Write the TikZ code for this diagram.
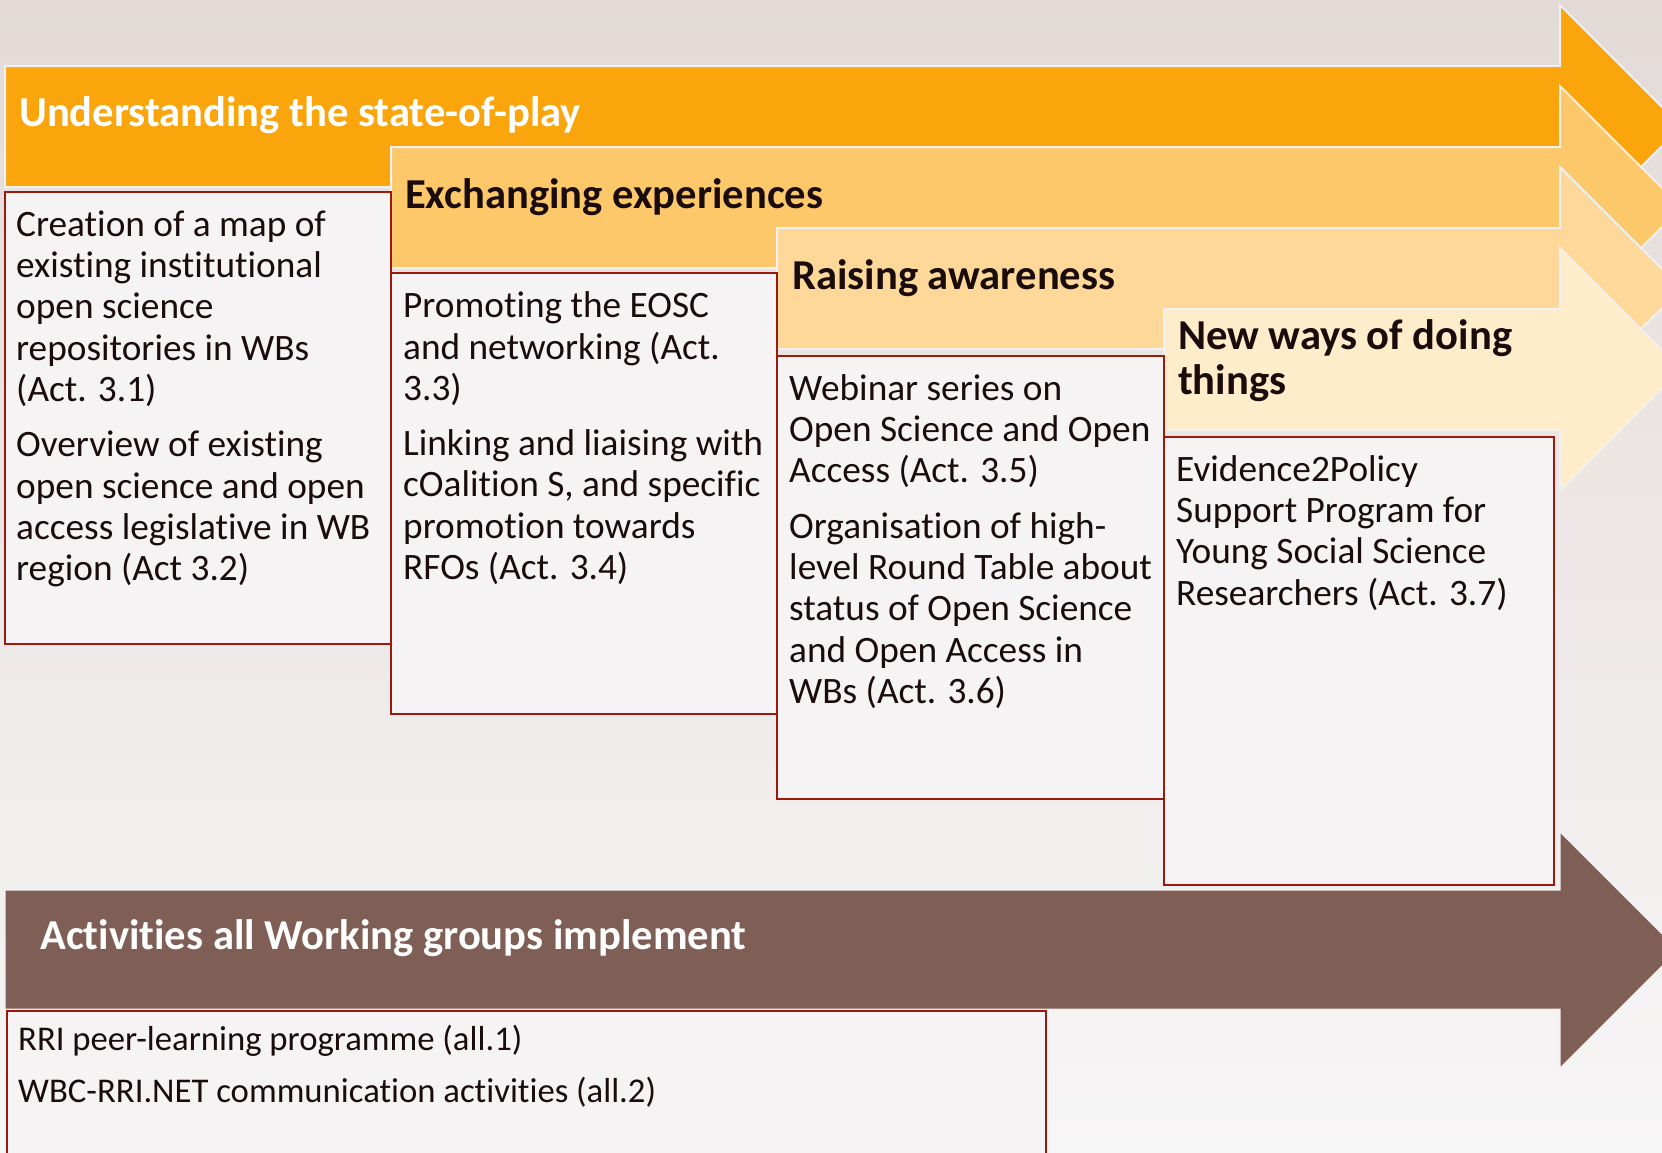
\documentclass[tikz,border=0pt]{standalone}
\usepackage{fontspec}
\setmainfont{Carlito}[Ligatures=NoCommon]
\usepackage{xcolor}
\usetikzlibrary{positioning}
\definecolor{bgtop}{RGB}{227,218,216}
\definecolor{bgmid}{RGB}{243,240,240}
\definecolor{bgbottom}{RGB}{247,246,246}
\definecolor{stageone}{RGB}{249,165,11}
\definecolor{stagetwo}{RGB}{252,200,106}
\definecolor{stagethree}{RGB}{253,216,153}
\definecolor{stagefour}{RGB}{254,236,203}
\definecolor{allcolor}{RGB}{127,95,85}
\definecolor{boxred}{RGB}{156,26,12}
\definecolor{boxfill}{RGB}{245,243,244}
\definecolor{inkcolor}{RGB}{26,12,12}

\begin{document}
\begin{tikzpicture}[
    x=1pt, y=-1pt,
    stage/.style={draw=white!94!black, line width=2pt},
    actbox/.style={rectangle, draw=boxred, fill=boxfill, line width=2.8pt, outer sep=0pt, anchor=north west},
    headtxt/.style={inner sep=0pt, align=left, font=\bfseries\fontsize{42.6}{45}\selectfont, text=inkcolor},
    acttxt/.style={inner sep=0pt, align=left, font=\fontsize{37.3}{41.3}\selectfont, text=inkcolor},
    alltxt/.style={inner sep=0pt, align=left, font=\fontsize{34.7}{36.6}\selectfont, text=inkcolor}
]
\useasboundingbox (0,0) rectangle (1662,1152);
\clip (0,0) rectangle (1662,1152);

% Background
\shade[top color=bgtop, middle color=bgmid, bottom color=bgbottom] (0,0) rectangle (1662,1152);

% Stage arrows
\filldraw[stage, fill=stageone] (5,66) -- (1560,66) -- (1560,5) -- (1681.5,126.5) -- (1560,248) -- (1560,187) -- (5,187) -- cycle;
\filldraw[stage, fill=stagetwo] (391,147) -- (1560,147) -- (1560,86) -- (1681.5,207.5) -- (1560,329) -- (1560,268) -- (391,268) -- cycle;
\filldraw[stage, fill=stagethree] (777,228) -- (1560,228) -- (1560,167) -- (1681.5,288.5) -- (1560,410) -- (1560,349) -- (777,349) -- cycle;
\filldraw[stage, fill=stagefour] (1164,309) -- (1560,309) -- (1560,248) -- (1681.5,369.5) -- (1560,491) -- (1560,430) -- (1164,430) -- cycle;
\coordinate (shaft1) at (5,66);
\coordinate (shaft2) at (391,147);
\coordinate (shaft3) at (777,228);
\coordinate (shaft4) at (1164,309);

% Stage titles
\node[headtxt, text=white, below right=28.8pt and 14pt of shaft1] (head1) {\strut Understanding the state-of-play};
\node[headtxt, below right=29.3pt and 14pt of shaft2] (head2) {\strut Exchanging experiences};
\node[headtxt, below right=29.3pt and 15pt of shaft3] (head3) {\strut Raising awareness};
\node[headtxt, below right=9pt and 14pt of shaft4] (head4) {\strut New ways of doing\\things};

% Activity boxes
\node[actbox, minimum width=386, minimum height=452] (boxA) at (5,192) {};
\node[actbox, minimum width=386, minimum height=441] (boxB) at (391,273) {};
\node[actbox, minimum width=387, minimum height=443] (boxC) at (777,356) {};
\node[actbox, minimum width=390, minimum height=448] (boxD) at (1164,437) {};

\node[acttxt, below right=15.1pt and 11pt of boxA.north west] (txtA) {\strut Creation of a map of\\existing institutional\\open science\\repositories in WBs\\(Act. 3.1)\\[14pt]Overview of existing\\open science and open\\access legislative in WB\\region (Act 3.2)};
\node[acttxt, below right=15.6pt and 12pt of boxB.north west] (txtB) {\strut Promoting the EOSC\\and networking (Act.\\3.3)\\[14pt]Linking and liaising with\\cOalition S, and specific\\promotion towards\\RFOs (Act. 3.4)};
\node[acttxt, below right=15.1pt and 12pt of boxC.north west] (txtC) {\strut Webinar series on\\Open Science and Open\\Access (Act. 3.5)\\[14pt]Organisation of high-\\level Round Table about\\status of Open Science\\and Open Access in\\WBs (Act. 3.6)};
\node[acttxt, below right=15.1pt and 12pt of boxD.north west] (txtD) {\strut Evidence2Policy\\Support Program for\\Young Social Science\\Researchers (Act. 3.7)};

% Activities for all groups
\filldraw[stage, line width=1pt, fill=allcolor] (5,890) -- (1560,890) -- (1560,832) -- (1678,950) -- (1560,1068) -- (1560,1009) -- (5,1009) -- cycle;
\coordinate (shaft5) at (5,890);
\node[headtxt, text=white, below right=28pt and 35pt of shaft5] (head5) {\strut Activities all Working groups implement};
\node[actbox, minimum width=1039, minimum height=170] (boxE) at (7,1011) {};
\node[alltxt, below right=14pt and 11pt of boxE.north west] (txtE) {\strut RRI peer-learning programme (all.1)\\[15pt]WBC-RRI.NET communication activities (all.2)};

\end{tikzpicture}
\end{document}
